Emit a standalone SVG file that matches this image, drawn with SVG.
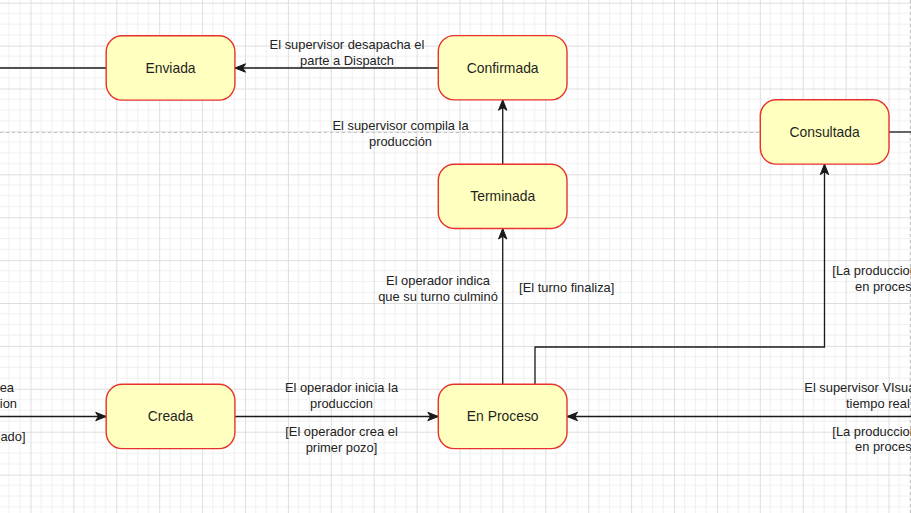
<svg xmlns="http://www.w3.org/2000/svg" width="911" height="513" viewBox="0 0 911 513">
<defs>
<pattern id="grid" patternUnits="userSpaceOnUse" x="30.5" y="2.7" width="42.9" height="42.9">
<rect width="42.9" height="42.9" fill="#ffffff"/>
<path d="M10.725,0V42.9M21.45,0V42.9M32.175,0V42.9M0,10.725H42.9M0,21.45H42.9M0,32.175H42.9" stroke="#f0f0f0" stroke-width="1" fill="none"/>
<path d="M0.5,0V42.9M0,0.5H42.9" stroke="#dedede" stroke-width="1" fill="none"/>
</pattern>
<marker id="arr" markerUnits="userSpaceOnUse" markerWidth="14" markerHeight="12" viewBox="-12 -6 14 12" refX="0" refY="0" orient="auto">
<path d="M0,0 L-10.5,-4.2 L-7.8,0 L-10.5,4.2 Z" fill="#1a1a1a" stroke="#1a1a1a" stroke-width="1"/>
</marker>
</defs>
<style>
.node rect{fill:#ffffc0;stroke:#e8322b;stroke-width:1.4}
.node text{font-family:"Liberation Sans",Arial,sans-serif;font-size:13.9px;fill:#1f1f1f;text-anchor:middle}
.edge{fill:none;stroke:#1a1a1a;stroke-width:1.3}
.lbl{font-family:"Liberation Sans",Arial,sans-serif;font-size:12.9px;fill:#222222}
.c{text-anchor:middle}
.s{text-anchor:start}
.e{text-anchor:end}
.sep{fill:none;stroke:#c4c4c4;stroke-width:1;stroke-dasharray:3 3}
</style>
<rect width="911" height="513" fill="url(#grid)"/>
<g id="separators">
<path class="sep" d="M0,132.5H760"/>
<path class="sep" d="M910.5,0V513"/>
</g>
<g id="connectors">
<path class="edge" d="M438.3,68H235" marker-end="url(#arr)"/>
<path class="edge" d="M106.2,68H0"/>
<path class="edge" d="M502.7,164.2V99.8" marker-end="url(#arr)"/>
<path class="edge" d="M502.7,384.3V228.5" marker-end="url(#arr)"/>
<path class="edge" d="M535,384.3V347H824.5V164.1" marker-end="url(#arr)"/>
<path class="edge" d="M911,416.5H567" marker-end="url(#arr)"/>
<path class="edge" d="M889,132H911"/>
<path class="edge" d="M235,416.5H438.3" marker-end="url(#arr)"/>
<path class="edge" d="M0,416.5H106.2" marker-end="url(#arr)"/>
</g>
<g id="edge-labels">
<text class="lbl c" x="347" y="48.5">El supervisor desapacha el</text>
<text class="lbl c" x="347" y="64.5">parte a Dispatch</text>
<text class="lbl c" x="400.5" y="129.5">El supervisor compila la</text>
<text class="lbl c" x="400.5" y="145.5">producción</text>
<text class="lbl c" x="438" y="284.5">El operador indica</text>
<text class="lbl c" x="438" y="300.5">que su turno culminó</text>
<text class="lbl c" x="566.7" y="291.5">[El turno finaliza]</text>
<text class="lbl s" x="832.3" y="275">[La produccion</text>
<text class="lbl s" x="855" y="290.5">en proces</text>
<text class="lbl s" x="804.3" y="392">El supervisor VIsua</text>
<text class="lbl s" x="846" y="408">tiempo real</text>
<text class="lbl s" x="832.3" y="435.5">[La produccion</text>
<text class="lbl s" x="855" y="451">en proces</text>
<text class="lbl c" x="341.5" y="392">El operador inicia la</text>
<text class="lbl c" x="341.5" y="408">produccion</text>
<text class="lbl c" x="341.5" y="436">[El operador crea el</text>
<text class="lbl c" x="341.5" y="452">primer pozo]</text>
<text class="lbl e" x="14" y="392">ea</text>
<text class="lbl e" x="17" y="408">ion</text>
<text class="lbl e" x="25.5" y="441">ado]</text>
</g>
<g id="node-enviada" class="node">
<rect x="106.2" y="35.8" width="128.7" height="64.3" rx="16" ry="16"/>
<text x="170.5" y="72.8">Enviada</text>
</g>
<g id="node-confirmada" class="node">
<rect x="438.3" y="35.6" width="128.7" height="64.3" rx="16" ry="16"/>
<text x="502.7" y="72.6">Confirmada</text>
</g>
<g id="node-terminada" class="node">
<rect x="438.3" y="164.2" width="128.7" height="64.3" rx="16" ry="16"/>
<text x="502.7" y="201.3">Terminada</text>
</g>
<g id="node-consultada" class="node">
<rect x="760.3" y="99.8" width="128.7" height="64.3" rx="16" ry="16"/>
<text x="824.6" y="136.9">Consultada</text>
</g>
<g id="node-creada" class="node">
<rect x="106.2" y="384.3" width="128.7" height="64.3" rx="16" ry="16"/>
<text x="170.5" y="421.4">Creada</text>
</g>
<g id="node-enproceso" class="node">
<rect x="438.3" y="384.3" width="128.7" height="64.3" rx="16" ry="16"/>
<text x="502.7" y="421.4">En Proceso</text>
</g>
</svg>
